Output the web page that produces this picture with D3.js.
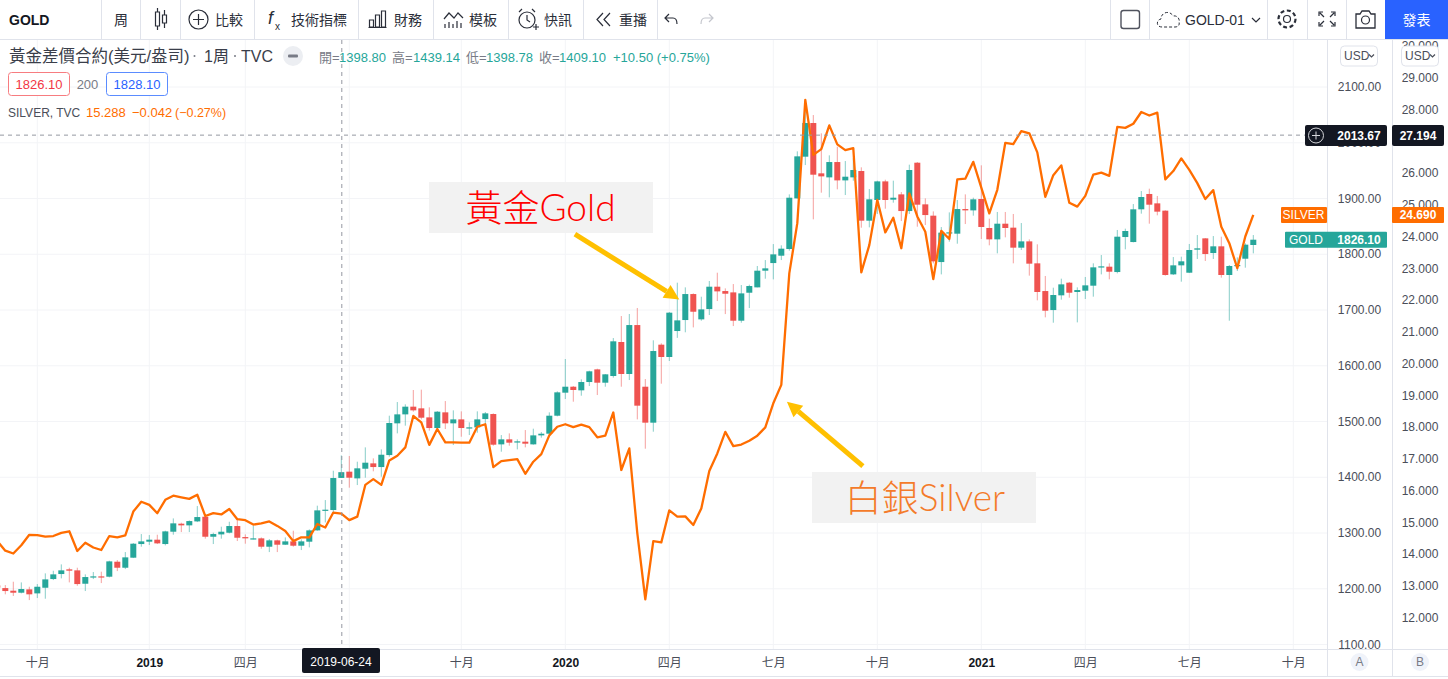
<!DOCTYPE html>
<html><head><meta charset="utf-8">
<script src="https://cdn.jsdelivr.net/npm/d3@7/dist/d3.min.js"></script>
<style>
html,body{margin:0;padding:0;background:#fff;overflow:hidden}
svg{display:block;font-family:"Liberation Sans","Noto Sans CJK TC",sans-serif}
</style></head><body><svg id="c" width="1448" height="679"></svg>
<script>
const goldOpen=[1206,1201.2,1196.5,1192.9,1198.9,1191.7,1201.8,1217.4,1226.4,1234.8,
1233,1209,1220.4,1222.2,1221.6,1248.5,1237.7,1255.7,1280.2,1284.4,
1288,1280.2,1302.3,1316.7,1313.7,1320.8,1329.2,1293.3,1297.5,1300.5,
1312.5,1292.7,1289.2,1290.4,1275.4,1286.8,1279,1285,1277.2,1284.4,
1304.7,1340.6,1341.2,1398.8,1410,1398,1415.3,1424.9,1418.3,1439.8,
1496.7,1512.8,1526.6,1523.6,1507.4,1488.3,1516.4,1496.7,1503.8,1488.3,
1489.5,1504.4,1513.4,1459,1468,1462.6,1463.8,1459,1475.1,1478.1,
1510.4,1551.7,1562.4,1555.9,1570.8,1593.5,1569.6,1581.6,1642.6,1585.2,
1673,1562.4,1497.9,1637.8,1615.7,1662.3,1682,1728.6,1683.2,1701.7,
1741.8,1734,1731.6,1680.8,1731,1740.6,1770.5,1784.2,1797.4,1809.4,
1900.2,1975,2035.4,1945.1,1937.9,1965.4,1932.5,1937.9,1949.3,1860.2,
1897.3,1930.7,1897.9,1907.4,1877.5,1964.2,1889.5,1869.2,1786,1837.5,
1836.9,1881.1,1878.7,1899.1,1847.1,1826.7,1854.8,1847.7,1811.8,1823.1,
1783.7,1734,1699.9,1726.3,1749,1732.3,1734.6,1743.6,1776.5,1777.7,
1768.1,1830.9,1821.9,1880.6,1908.1,1891.3,1878.2,1763.9,1780.1,1766.9,
1808.2,1828.5,1802.2,1814.2,1762.8,1778.9,1792,1816.6];
const goldHigh=[1210,1206.6,1212.6,1211.4,1203.6,1208.4,1227.6,1232.3,1243.7,1237.7,
1237.7,1225.8,1230,1230.6,1250.3,1251.5,1265.8,1282,1298.1,1296.3,
1296.9,1304.1,1326.2,1318.5,1322.6,1348.4,1330.4,1300.5,1311.3,1320.2,
1323.3,1297.5,1313.1,1292.1,1289.2,1288,1292.1,1304.1,1288.6,1306.5,
1349,1359.1,1411.7,1439.14,1438.1,1427.9,1453.6,1433.9,1450,1510.4,
1534.9,1530.8,1556.5,1557.1,1525.4,1518.8,1536.7,1520,1518.2,1498.5,
1518.2,1517,1514.6,1475.7,1478.7,1468,1484.7,1487.1,1481.1,1516.4,
1554.1,1612.1,1563.6,1575.6,1591.1,1594.7,1585.2,1649.7,1689.2,1692.8,
1703.6,1576.2,1645.6,1640.2,1696.4,1749,1740.6,1729.8,1723.8,1752,
1766.9,1738.8,1746.6,1744.8,1745.4,1778.9,1789.6,1818.3,1816,1907.4,
1984.6,2075,2049.7,2016.9,1977.4,1992.9,1967.2,1972,1955.9,1917,
1932,1933.7,1932,1911.6,1960.7,1965.4,1900.2,1876.9,1848.8,1875.1,
1897.3,1907.4,1901.5,1959.5,1863.8,1875.8,1875.8,1872.2,1856,1826.7,
1817.8,1761,1740,1756.2,1750.2,1740.6,1759.2,1783.7,1798.6,1783.7,
1843.5,1845.9,1890.1,1913.4,1917.6,1904.5,1878.8,1795,1795.6,1818.4,
1834.5,1829.1,1832.7,1831.5,1780.7,1794.4,1819.6,1834.5];
const goldLow=[1199,1190,1187,1191.7,1179.7,1183.3,1182.1,1215.6,1218.6,1211.4,
1205.4,1195.9,1217.4,1210.2,1220.4,1231.7,1235.3,1255.1,1275.4,1278.4,
1280.2,1277.8,1296.9,1301.7,1301.7,1319.6,1289.8,1280.2,1289.8,1299.3,
1285.6,1280.8,1288.6,1271.8,1265.8,1265.8,1278.4,1275.4,1269.4,1274.2,
1304.1,1319,1335.2,1398.78,1381.3,1386,1399.2,1410.6,1401,1436.9,
1478.7,1492.5,1517.6,1503.8,1483.5,1486.5,1486.5,1457.8,1472.7,1475.7,
1479.9,1495.5,1456.6,1445.8,1456.6,1450,1453.6,1458.4,1471,1477.5,
1509.2,1540.3,1535.5,1546.3,1563.6,1547.5,1562.4,1578.6,1562.4,1574.4,
1503.8,1451.2,1481.7,1567.8,1608.5,1650,1660,1668.8,1680.8,1691,
1716.1,1692.7,1671.2,1677.2,1703.5,1740.6,1756.1,1754.9,1789.6,1806.4,
1899.7,1960,1862.6,1910.4,1902,1916.4,1906.2,1931.9,1847.6,1848.2,
1872.2,1881.7,1892.5,1859.6,1872.2,1849.4,1852.4,1783.6,1763.9,1822.5,
1818.9,1854.2,1869.2,1827.3,1816,1801.6,1830.3,1783.7,1807.6,1761.6,
1717.3,1686.8,1677.2,1718.5,1722.1,1677.8,1719.7,1723.9,1763.9,1755,
1765.7,1808.8,1821.3,1872.8,1854.8,1869.8,1761.6,1762.8,1750.8,1766.3,
1791.5,1787.9,1791.5,1758,1680.8,1769.9,1775.9,1801.6];
const goldClose=[1202,1195.9,1192.9,1199.5,1190,1203.6,1216.8,1225.8,1233,1232.4,
1208.4,1221,1222.2,1221.6,1249.1,1237.7,1256.3,1280.8,1285,1288,
1281.4,1302.9,1317.3,1313.7,1321.4,1328.6,1293.3,1298.1,1302.3,1312.5,
1291.5,1290.4,1290.4,1275.4,1286.8,1279,1285,1277.2,1285,1304.7,
1340.6,1341.8,1398.6,1409.1,1399.2,1416,1426.1,1418.3,1440.4,1497.3,
1512.8,1526.6,1520,1506.8,1488.3,1517.6,1496.7,1503.8,1488.3,1489.5,
1503.8,1514.6,1458.4,1468,1462,1464.4,1460.2,1475.1,1478.1,1510.4,
1552.3,1562.4,1556.5,1570.8,1590,1569.6,1584.6,1643.8,1585.2,1673,
1528.4,1497.9,1626.4,1615.7,1695.2,1681.4,1728.6,1696.9,1701.1,1741.8,
1733.4,1729.2,1680.8,1729.8,1743,1770.5,1774.7,1799.8,1810,1901.4,
1975.6,2035.4,1942.7,1939.7,1965.4,1932.5,1939.1,1951.1,1860.2,1898.5,
1930.7,1897.3,1901.4,1877.5,1951.1,1888.9,1870.3,1787.2,1838.7,1839.3,
1881.1,1878.7,1898.5,1848.9,1826.7,1854.8,1847.1,1811.8,1823.1,1783.1,
1732.3,1698.7,1726.9,1746,1731,1735.8,1744.2,1776.5,1778.3,1768.7,
1831.5,1841.7,1880.6,1902.7,1888.9,1876.4,1762.8,1780.1,1787.3,1807.6,
1810.6,1800.4,1814.2,1762.8,1778.9,1780.7,1817.2,1826.1];
const silverClose=[14.42,14.12,14.03,14.29,14.62,14.61,14.56,14.58,14.68,14.73,
14.11,14.37,14.22,14.14,14.58,14.54,14.60,15.35,15.66,15.56,
15.30,15.72,15.85,15.80,15.75,15.88,15.21,15.30,15.26,15.43,
15.11,15.08,14.94,14.98,15.04,14.90,14.74,14.42,14.54,14.54,
14.96,14.85,15.32,15.288,15.08,15.19,16.19,16.37,16.19,16.96,
17.11,17.37,18.36,18.16,17.45,17.95,17.53,17.53,17.52,17.52,
18.02,18.10,16.75,16.94,16.97,17.0,16.54,16.92,17.16,17.75,
18.02,18.10,18.01,18.09,18.01,17.69,17.74,18.47,16.66,17.34,
14.67,12.59,14.42,14.38,15.39,15.19,15.20,14.93,15.45,16.63,
17.18,17.86,17.41,17.46,17.58,17.74,18.0,18.76,19.34,22.85,
24.43,28.31,26.58,26.76,27.51,26.91,26.73,26.79,22.88,23.74,
25.16,24.14,24.6,23.64,25.37,24.64,24.16,22.67,24.19,23.93,
25.81,25.83,26.36,25.55,24.74,25.48,26.96,26.92,27.33,27.26,
26.66,25.26,25.94,26.25,25.07,24.95,25.29,25.96,26.02,25.92,
27.46,27.43,27.56,27.93,27.82,27.91,25.81,26.07,26.47,26.11,
25.69,25.19,25.47,24.32,23.8,23.01,24.01,24.69];
const goldTicks=[1100,1200,1300,1400,1500,1600,1700,1800,1900,2000,2100];
const silverTicks=[12,13,14,15,16,17,18,19,20,21,22,23,24,25,26,28,29,30];
const timeGridDates=["2018-10-01","2019-01-07","2019-04-01","2019-07-01","2019-10-07","2020-01-06","2020-04-06","2020-07-06","2020-10-05","2021-01-04","2021-04-05","2021-07-05","2021-10-04"];
const timeTickDates=["2018-10-01","2019-01-07","2019-04-01","2019-10-07","2020-01-06","2020-04-06","2020-07-06","2020-10-05","2021-01-04","2021-04-05","2021-07-05","2021-10-04"];
const timeTickLabels=["十月","2019","四月","十月","2020","四月","七月","十月","2021","四月","七月","十月"];
const crossDate="2019-06-24", crossGold=2013.67, crossSilver=27.194;

const GREEN="#26a69a",RED="#ef5350",ORANGE="#ff6d00",ARROW="#ffc000",GRID="#f3f4f7",BORDER="#e0e3eb",DARK="#131722",TICK="#4a4e59",MUTE="#787b86";
const svg=d3.select("#c");
const parse=d3.utcParse("%Y-%m-%d");
const dates=d3.range(goldOpen.length).map(i=>d3.utcDay.offset(parse("2018-08-27"),7*i));
const x=d3.scaleUtc().domain([dates[0],dates[dates.length-1]]).range([-2.7,1253.3]);
const xw=w=>new Date(+dates[0]+w*7*864e5); // fractional week position
const yG=d3.scaleLinear().domain([1100,2100]).range([644.5,87]);
const yS=d3.scaleLinear().domain([12,29]).range([618,78]);
const defs=svg.append("defs");
defs.append("clipPath").attr("id","plot").append("rect").attr("x",0).attr("y",40).attr("width",1327).attr("height",609);
defs.append("clipPath").attr("id","axisclip").append("rect").attr("x",1327).attr("y",40).attr("width",121).attr("height",609);
const T=(g,s,px,py,o={})=>g.append("text").attr("x",px).attr("y",py).attr("font-size",o.size||12).attr("fill",o.fill||DARK)
  .attr("text-anchor",o.anchor||"start").attr("dominant-baseline","central").attr("font-weight",o.weight||400).text(s);

// grid
const plot=svg.append("g").attr("clip-path","url(#plot)");
plot.append("g").selectAll("line").data(goldTicks).join("line").attr("x1",0).attr("x2",1327).attr("y1",d=>yG(d)).attr("y2",d=>yG(d)).attr("stroke",GRID);
plot.append("g").selectAll("line").data(timeGridDates).join("line").attr("x1",d=>x(parse(d))).attr("x2",d=>x(parse(d))).attr("y1",40).attr("y2",649).attr("stroke",GRID);

// candles
const candles=plot.append("g").selectAll("g").data(d3.range(goldOpen.length)).join("g");
const col=i=>goldClose[i]>=goldOpen[i]?GREEN:RED;
candles.append("line").attr("x1",i=>x(dates[i])).attr("x2",i=>x(dates[i])).attr("y1",i=>yG(goldHigh[i])).attr("y2",i=>yG(goldLow[i]))
  .attr("stroke",col).attr("stroke-opacity",.55).attr("stroke-width",1);
candles.append("rect").attr("x",i=>x(dates[i])-3).attr("width",6)
  .attr("y",i=>yG(Math.max(goldOpen[i],goldClose[i]))).attr("height",i=>Math.max(1.2,Math.abs(yG(goldOpen[i])-yG(goldClose[i])))).attr("fill",col);

// annotation boxes
const anno=svg.append("g");
anno.append("rect").attr("x",429).attr("y",182).attr("width",224).attr("height",51).attr("fill","#f2f2f2");
anno.append("rect").attr("x",812).attr("y",472).attr("width",224).attr("height",51).attr("fill","#f2f2f2");
const annoText=(cx,cy,cjk,lat,c)=>{const t=anno.append("text").attr("x",cx).attr("y",cy).attr("text-anchor","middle").attr("dominant-baseline","central").attr("fill",c).attr("font-size",37);
  t.append("tspan").attr("font-family","'Noto Sans CJK TC'").attr("font-weight",300).text(cjk);
  t.append("tspan").attr("font-family","Lato").attr("font-weight",300).text(lat);};
annoText(540.5,206,"黃金","Gold","#ff0000");
annoText(925,496,"白銀","Silver","#f47b2a");

// silver line
plot.append("path").attr("d",d3.line().x((d,i)=>x(dates[i])).y(d=>yS(d))(silverClose)).attr("fill","none").attr("stroke",ORANGE).attr("stroke-width",2.3).attr("stroke-linejoin","round");

// arrows (anchored on the price/time scales)
const arrow=(w0,p0,w1,p1)=>{const a=[x(xw(w0)),yG(p0)],b=[x(xw(w1)),yG(p1)];const dx=b[0]-a[0],dy=b[1]-a[1],D=Math.hypot(dx,dy),ux=dx/D,uy=dy/D,h=15,s=7.5;
  const bx=b[0]-ux*h,by=b[1]-uy*h;
  svg.append("line").attr("x1",a[0]).attr("y1",a[1]).attr("x2",bx).attr("y2",by).attr("stroke",ARROW).attr("stroke-width",5);
  svg.append("path").attr("d",d3.line()([b,[bx-uy*s,by+ux*s],[bx+uy*s,by-ux*s]])).attr("fill",ARROW);};
arrow(72.2,1836,85.25,1719);
arrow(108.2,1420,98.7,1535.5);

// crosshair
plot.append("line").attr("x1",x(parse(crossDate))+.5).attr("x2",x(parse(crossDate))+.5).attr("y1",40).attr("y2",649).attr("stroke","#9598a1").attr("stroke-dasharray","4 4");
plot.append("line").attr("x1",0).attr("x2",1305).attr("y1",yG(crossGold)).attr("y2",yG(crossGold)).attr("stroke","#9598a1").attr("stroke-dasharray","4 4");

// right axes
const axisG=svg.append("g").attr("clip-path","url(#axisclip)");
goldTicks.forEach(d=>T(axisG,d.toFixed(2),1359.5,yG(d),{anchor:"middle",fill:TICK}));
silverTicks.forEach(d=>T(axisG,d.toFixed(3),1420,yS(d),{anchor:"middle",fill:TICK}));
svg.append("line").attr("x1",1327.5).attr("x2",1327.5).attr("y1",40).attr("y2",676).attr("stroke",BORDER);
svg.append("line").attr("x1",1392.5).attr("x2",1392.5).attr("y1",40).attr("y2",676).attr("stroke",BORDER);

// USD buttons
[[1340,37],[1401,37]].forEach(([bx,w])=>{
  svg.append("rect").attr("x",bx+.5).attr("y",46).attr("width",w).attr("height",20).attr("rx",4).attr("fill","#fff").attr("stroke",BORDER);
  T(svg,"USD",bx+4,56,{fill:TICK});
  svg.append("path").attr("d",`M${bx+29} 54.5l2.5 2.5 2.5-2.5`).attr("fill","none").attr("stroke",TICK).attr("stroke-width",1.2);
});

// price labels
const lab=(lx,ly,w,h,f,r=2)=>svg.append("rect").attr("x",lx).attr("y",ly).attr("width",w).attr("height",h).attr("rx",r).attr("fill",f);
lab(1305,125,82,21,DARK); lab(1392,125,52,21,DARK);
svg.append("circle").attr("cx",1316).attr("cy",135.5).attr("r",7.5).attr("fill","none").attr("stroke","#d5d6da");
svg.append("path").attr("d","M1312 135.5h8M1316 131.5v8").attr("stroke","#d5d6da");
T(svg,crossGold.toFixed(2),1359,135.5,{anchor:"middle",fill:"#fff",weight:700});
T(svg,crossSilver.toFixed(3),1418,135.5,{anchor:"middle",fill:"#fff",weight:700});
const sy=yS(silverClose[silverClose.length-1]),gy=yG(goldClose[goldClose.length-1]);
lab(1281,sy-8,46,16,ORANGE,1); lab(1392,sy-8,52,16,ORANGE,1);
T(svg,"SILVER",1303.5,sy,{anchor:"middle",fill:"#fff"});
T(svg,silverClose[silverClose.length-1].toFixed(3),1418,sy,{anchor:"middle",fill:"#fff",weight:700});
lab(1285,gy-8,102,16,GREEN,1);
T(svg,"GOLD",1306,gy,{anchor:"middle",fill:"#fff"});
T(svg,goldClose[goldClose.length-1].toFixed(2),1359,gy,{anchor:"middle",fill:"#fff",weight:700});

// time axis
svg.append("line").attr("x1",0).attr("x2",1448).attr("y1",649.5).attr("y2",649.5).attr("stroke",BORDER);
svg.append("line").attr("x1",0).attr("x2",1448).attr("y1",676.5).attr("y2",676.5).attr("stroke",BORDER);
timeTickDates.forEach((d,i)=>{const yr=/^\d+$/.test(timeTickLabels[i]);T(svg,timeTickLabels[i],x(parse(d))+.5,663,{anchor:"middle",weight:yr?700:400,fill:yr?DARK:TICK});});
lab(302,648,78,25,DARK);
T(svg,crossDate,341,662,{anchor:"middle",fill:"#fff"});
[["A",1359.5],["B",1420]].forEach(([s,cx])=>{svg.append("circle").attr("cx",cx).attr("cy",662).attr("r",9).attr("fill","#f0f3fa");T(svg,s,cx,662,{anchor:"middle",fill:MUTE});});

// legend
const L=svg.append("g");
T(L,"黃金差價合約(美元/盎司)",9,56,{size:16.5,fill:"#3a3e4a"});
L.append("circle").attr("cx",194.5).attr("cy",56).attr("r",1).attr("fill",MUTE);
T(L,"1周",204,56,{size:16,fill:"#3a3e4a"});
L.append("circle").attr("cx",235).attr("cy",56).attr("r",1).attr("fill",MUTE);
T(L,"TVC",241,56,{size:16,fill:"#3a3e4a"});
L.append("circle").attr("cx",293).attr("cy",56).attr("r",10).attr("fill","#eceef2");
L.append("rect").attr("x",288).attr("y",54.5).attr("width",10).attr("height",3).attr("rx",1).attr("fill","#787b86");
[["開=",319],["高=",392],["低=",466],["收=",539]].forEach(([s,p])=>T(L,s,p,57,{size:13,fill:MUTE}));
[["1398.80",339],["1439.14",413],["1398.78",486],["1409.10",559],["+10.50 (+0.75%)",613]].forEach(([s,p])=>T(L,s,p,57,{size:13,fill:GREEN}));
L.append("rect").attr("x",8.5).attr("y",72.5).attr("width",61).attr("height",23).attr("rx",3).attr("fill","#fff").attr("stroke","#f77c80");
T(L,"1826.10",39,84,{size:13,fill:"#f23645",anchor:"middle"});
T(L,"200",87.5,84,{size:13,fill:MUTE,anchor:"middle"});
L.append("rect").attr("x",106.5).attr("y",72.5).attr("width",61).attr("height",23).attr("rx",3).attr("fill","#fff").attr("stroke","#5b8cff");
T(L,"1828.10",137,84,{size:13,fill:"#2962ff",anchor:"middle"});
T(L,"SILVER, TVC",8,112.5,{size:12,fill:"#4a4e59"});
T(L,"15.288",86,112.5,{size:13,fill:"#ff6d00"});
T(L,"−0.042",132,112.5,{size:13,fill:"#ff6d00"});
T(L,"(−0.27%)",175,112.5,{size:12.5,fill:"#ff6d00"});

// toolbar
const B=svg.append("g");
B.append("rect").attr("width",1448).attr("height",39).attr("fill","#fff");
B.append("line").attr("x1",0).attr("x2",1448).attr("y1",39.5).attr("y2",39.5).attr("stroke",BORDER);
[101,140,180,254,358,433,508,583,657,1110,1149,1267,1307,1346].forEach(s=>B.append("line").attr("x1",s+.5).attr("x2",s+.5).attr("y1",0).attr("y2",39).attr("stroke",BORDER));
T(B,"GOLD",9,19.5,{size:14,weight:700});
T(B,"周",121,19.5,{size:14,anchor:"middle",fill:"#2a2e39"});
[["比較",215],["技術指標",291],["財務",394],["模板",469],["快訊",544],["重播",619]].forEach(([s,p])=>T(B,s,p,19.5,{size:14,fill:"#2a2e39"}));
const ic=(d,w=1.2,c="#2a2e39")=>B.append("path").attr("d",d).attr("fill","none").attr("stroke",c).attr("stroke-width",w);
ic("M155.5 12h4v14h-4zM157.5 8v4M157.5 26v4M162.5 15h4v8h-4zM164.5 10v5M164.5 23v5");
B.append("circle").attr("cx",198.5).attr("cy",19.5).attr("r",9.5).attr("fill","none").attr("stroke","#2a2e39").attr("stroke-width",1.2);
ic("M193 19.5h11M198.5 14v11");
T(B,"f",268,18,{size:18,fill:"#2a2e39"}).attr("font-style","italic");
T(B,"x",275,26,{size:10,fill:"#2a2e39"});
ic("M368.5 27.5h18M369.5 20h4v7h-4zM375.5 15h4v12h-4zM381.5 11h4v16h-4z");
ic("M444 19l5-6 5 5 4-5 5 5M445 28v-4M449 28v-6M453 28v-4M457 28v-7M461 28v-5",1.2);
B.append("circle").attr("cx",527).attr("cy",20).attr("r",8).attr("fill","none").attr("stroke","#2a2e39").attr("stroke-width",1.2);
ic("M527 15v5l3 2M519 12l3-3M535 12l-3-3M533 27h6M536 24v6");
ic("M603 13l-6 6.5 6 6.5M610 13l-6 6.5 6 6.5");
ic("M669 14l-4 4 4 4M665 18h8c3 0 4 3 4 6",1.2);
ic("M709 14l4 4-4 4M713 18h-8c-3 0-4 3-4 6",1.2,"#c4c6cd");
B.append("rect").attr("x",1121).attr("y",10.5).attr("width",18.5).attr("height",18).attr("rx",2.5).attr("fill","none").attr("stroke","#50535e").attr("stroke-width",1.4);
ic("M1162 27c-6 0-6-7-1-8 0-7 9-9 12-3 5-1 7 4 6 6 1 3-1 5-4 5z",1,"#2a2e39").attr("stroke-dasharray","3 2");
T(B,"GOLD-01",1185,19.5,{size:14,fill:"#2a2e39"});
ic("M1252 18l4 4 4-4");
B.append("circle").attr("cx",1287).attr("cy",19).attr("r",3.5).attr("fill","none").attr("stroke","#2a2e39").attr("stroke-width",1.2);
B.append("circle").attr("cx",1287).attr("cy",19).attr("r",8.5).attr("fill","none").attr("stroke","#2a2e39").attr("stroke-width",2.2).attr("stroke-dasharray","4 2.6");
ic("M1319 16v-4h4M1335 16v-4h-4M1319 22v4h4M1335 22v4h-4M1320 13l4 4M1334 13l-4 4M1320 25l4-4M1334 25l-4-4");
ic("M1356 14h4l2-3h7l2 3h4v14h-19z",1.3);
B.append("circle").attr("cx",1365.5).attr("cy",20).attr("r",4).attr("fill","none").attr("stroke","#2a2e39").attr("stroke-width",1.2);
B.append("rect").attr("x",1385).attr("y",0).attr("width",63).attr("height",39).attr("fill","#2962ff");
T(B,"發表",1416.5,19.5,{size:14,fill:"#fff",anchor:"middle"});
</script></body></html>
